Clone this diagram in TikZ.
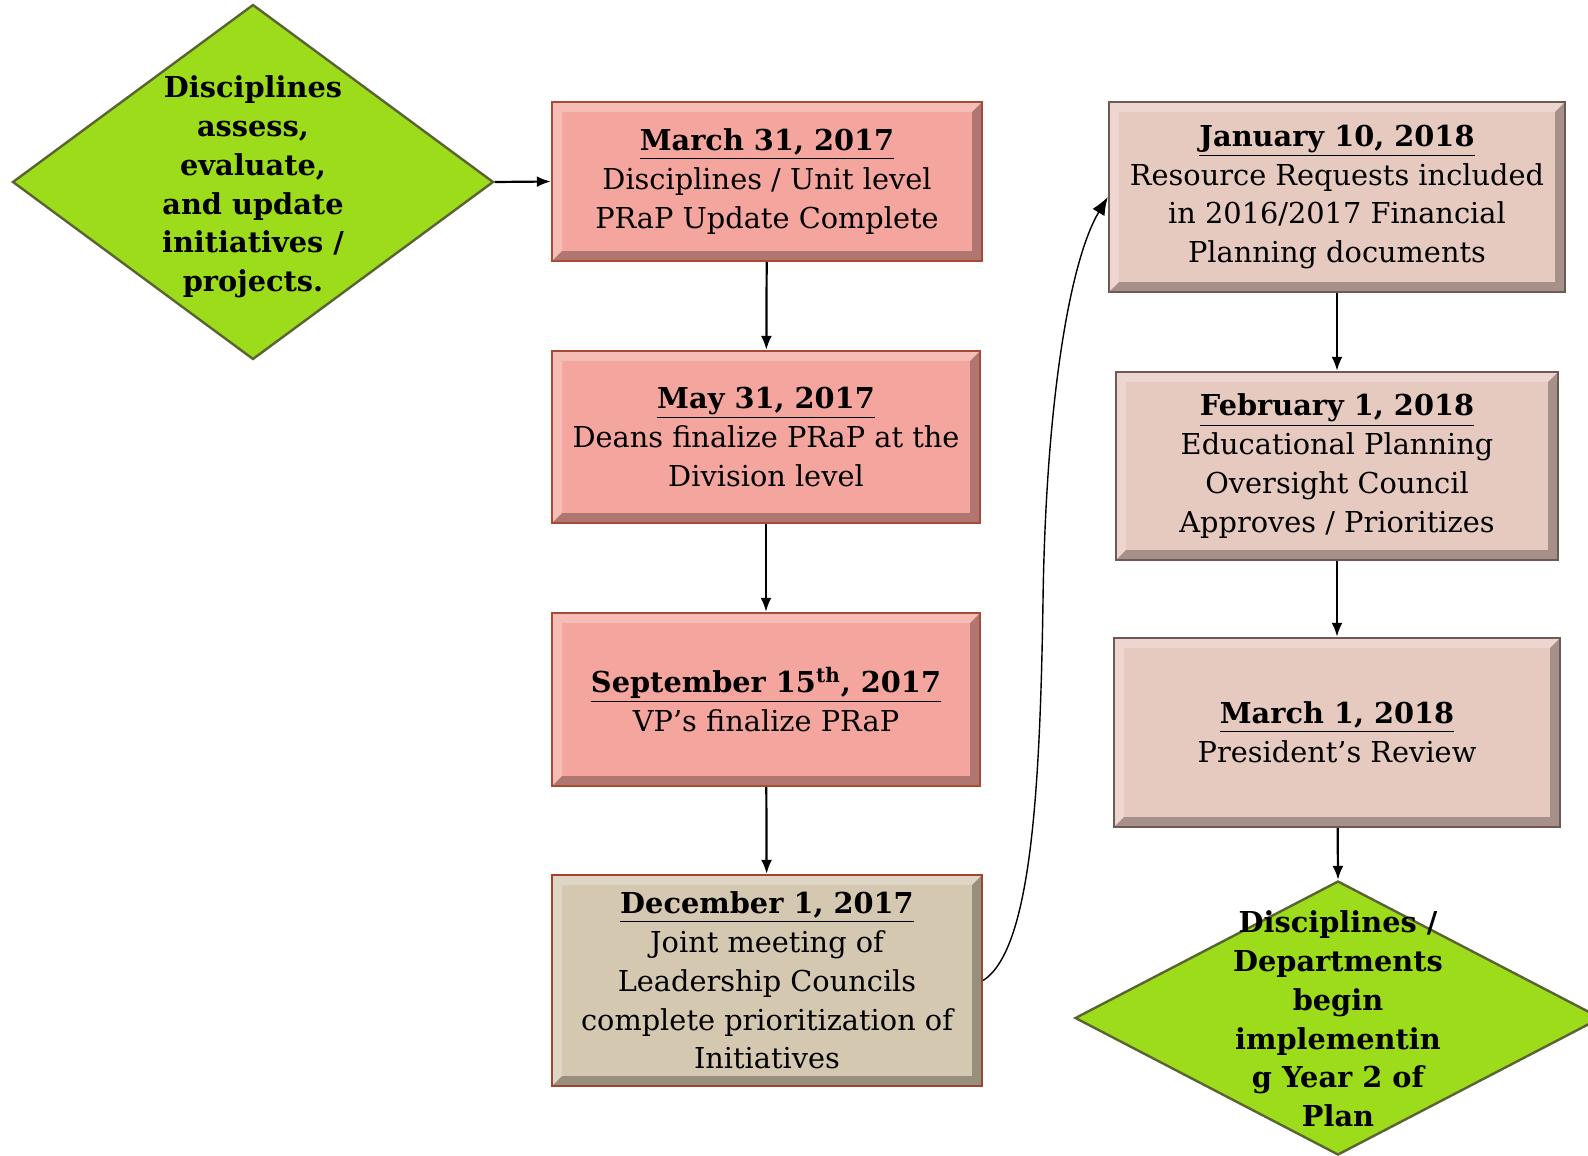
\documentclass[tikz,border=0pt]{standalone}
\usepackage{fontspec}
\setmainfont{DejaVu Serif}
\usetikzlibrary{shapes.geometric}
\usetikzlibrary{arrows.meta}

\definecolor{pinkfill}{HTML}{F4A69E}
\definecolor{pinkline}{HTML}{A84A36}
\definecolor{beigefill}{HTML}{D4C8B1}
\definecolor{beigeline}{HTML}{A0442E}
\definecolor{rosefill}{HTML}{E6C9BF}
\definecolor{roseline}{HTML}{6E5954}
\definecolor{greenfill}{HTML}{9DDC1B}
\definecolor{greenline}{HTML}{5A6432}

\newcommand{\boxfont}{\fontsize{14.4}{19.4}\selectfont}
\newcommand{\datetitle}[1]{\underline{\textbf{#1}}}

\tikzset{
  bevel/.style={path picture={
    \coordinate (bsw) at (path picture bounding box.south west);
    \coordinate (bne) at (path picture bounding box.north east);
    \fill[white,opacity=.25] (bsw) |- (bne) -- ++(-5pt,-5pt) -| ([shift={(5pt,5pt)}]bsw) -- cycle;
    \fill[black,opacity=.28] (bsw) -| (bne) -- ++(-5pt,-5pt) |- ([shift={(5pt,5pt)}]bsw) -- cycle;
  }},
  datebox/.style={draw, line width=1.2pt, align=center, inner sep=0pt, font=\boxfont, bevel},
  pinkbox/.style={datebox, fill=pinkfill, draw=pinkline},
  beigebox/.style={datebox, fill=beigefill, draw=beigeline},
  rosebox/.style={datebox, fill=rosefill, draw=roseline},
  greendiamond/.style={diamond, draw=greenline, fill=greenfill, line width=1.2pt, inner sep=0pt},
  diamondtext/.style={align=center, inner sep=0pt, font=\boxfont\bfseries},
  flow/.style={-{Latex[length=7pt,width=5.5pt]}, line width=1.1pt},
}

\begin{document}
\begin{tikzpicture}[x=0.5pt,y=-0.5pt]
\useasboundingbox (0,0) rectangle (1588,1155);

% start
\node[greendiamond, minimum width=240.5pt, minimum height=177.5pt] (d1) at (253,182) {};
\node[diamondtext] (d1text) at (253,187) {Disciplines\\assess,\\evaluate,\\and update\\initiatives /\\projects.};

% left column
\node[pinkbox, minimum width=215pt, minimum height=79.5pt] (b1) at (767,181.5)
  {\datetitle{March 31, 2017}\\Disciplines / Unit level\\PRaP Update Complete};
\node[pinkbox, minimum width=214pt, minimum height=86pt] (b2) at (766,437)
  {\datetitle{May 31, 2017}\\Deans finalize PRaP at the\\Division level};
\node[pinkbox, minimum width=214pt, minimum height=86.5pt] (b3) at (766,699.5)
  {\datetitle{September 15\textsuperscript{th}, 2017}\\VP’s finalize PRaP};
\node[beigebox, minimum width=215pt, minimum height=105.5pt] (b4) at (767,980.5)
  {\datetitle{December 1, 2017}\\Joint meeting of\\Leadership Councils\\complete prioritization of\\Initiatives};

% right column
\node[rosebox, minimum width=228pt, minimum height=95pt] (b5) at (1337,197)
  {\datetitle{January 10, 2018}\\Resource Requests included\\in 2016/2017 Financial\\Planning documents};
\node[rosebox, minimum width=221pt, minimum height=94pt] (b6) at (1337,466)
  {\datetitle{February 1, 2018}\\Educational Planning\\Oversight Council\\Approves / Prioritizes};
\node[rosebox, minimum width=223pt, minimum height=94.5pt] (b7) at (1337,732.5)
  {\datetitle{March 1, 2018}\\President’s Review};

% end
\node[greendiamond, minimum width=263pt, minimum height=137pt] (d2) at (1338,1018) {};
\node[diamondtext] (d2text) at (1338,1019) {Disciplines /\\Departments\\begin\\implementin\\g Year 2 of\\Plan};

\draw[flow] (d1.east) -- (b1.west);
\draw[flow] (b1) -- (b2);
\draw[flow] (b2) -- (b3);
\draw[flow] (b3) -- (b4);
\coordinate (bend) at (1043,600);
\draw[-{Latex[length=9pt,width=7pt]}, line width=0.7pt] (b4.east) .. controls (1030,950) and (1040,800) .. (bend)
  .. controls (1046,400) and (1070,260) .. (b5.west);
\draw[flow] (b5) -- (b6);
\draw[flow] (b6) -- (b7);
\draw[flow] (b7) -- (d2.north);
\end{tikzpicture}
\end{document}
